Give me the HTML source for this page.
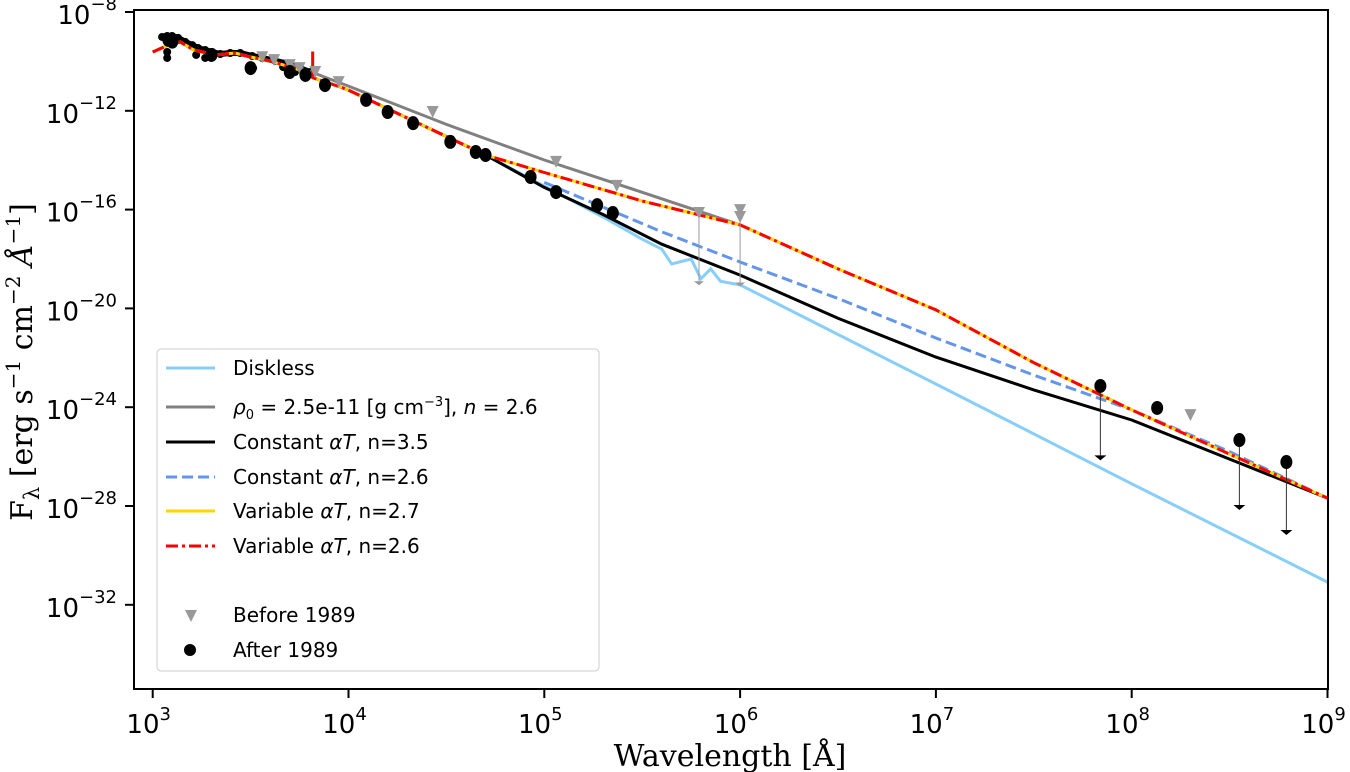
<!DOCTYPE html>
<html><head><meta charset="utf-8"><style>
html,body{margin:0;padding:0;background:#fff;}
svg{display:block;font-family:"DejaVu Sans","Liberation Sans",sans-serif;}
</style></head><body>
<svg id="chart" width="1350" height="772">
<g id="plot"></g>
<rect x="134" y="10" width="1194" height="679" fill="none" stroke="#000" stroke-width="2"/>
<g id="ticks"></g>
<text x="730" y="766" text-anchor="middle" font-family="DejaVu Serif, serif" font-size="30">Wavelength [Å]</text>
<text transform="translate(32,362) rotate(-90)" text-anchor="middle" font-family="DejaVu Serif, serif" font-size="30">F<tspan font-size="21" dy="7">λ</tspan><tspan dy="-7"> [erg s</tspan><tspan font-size="20" dy="-12">−1</tspan><tspan dy="12"> cm</tspan><tspan font-size="20" dy="-12">−2</tspan><tspan dy="12" font-style="italic"> Å</tspan><tspan font-size="20" dy="-12">−1</tspan><tspan dy="12">]</tspan></text>
<g id="legend">
<rect x="157" y="349" width="442" height="322" rx="4" fill="#fff" fill-opacity="0.85" stroke="#ccc" stroke-width="1"/>
</g>
</svg>
<script>
// data in log10 space: log10(lambda [Å]) and log10(F)
const disklessX = [3.0,3.08,3.14,3.21,3.32,3.42,3.5,3.6,3.75,3.82,3.96,4.0,4.3,4.7,5.0,5.3,5.5,5.6,5.65,5.75,5.8,5.85,5.9,6.0,7.0,8.0,9.0];
const disklessY = [-9.62,-9.34,-9.21,-9.54,-9.74,-9.66,-9.82,-9.98,-10.35,-10.67,-11.04,-11.16,-12.29,-13.79,-15.05,-16.3,-17.2,-17.6,-18.2,-18.0,-18.8,-18.4,-18.9,-19.05,-23.06,-27.1,-31.08];
const constN35X = [3.0,3.08,3.14,3.21,3.32,3.42,3.5,3.6,3.75,3.82,3.96,4.0,4.3,4.7,5.0,5.3,5.6,6.0,6.5,7.0,7.5,8.0,8.5,9.0];
const constN35Y = [-9.62,-9.34,-9.21,-9.54,-9.74,-9.66,-9.82,-9.98,-10.35,-10.67,-11.04,-11.16,-12.29,-13.79,-15.1,-16.2,-17.4,-18.65,-20.4,-21.97,-23.3,-24.52,-26.1,-27.68];
const constN26X = [5.0,5.3,5.6,6.0,6.5,7.0,7.5,8.0,8.5,9.0];
const constN26Y = [-14.9,-15.9,-16.9,-18.12,-19.6,-21.2,-22.7,-24.11,-25.8,-27.68];
const varX = [3.0,3.08,3.14,3.21,3.32,3.42,3.5,3.6,3.75,3.82,3.96,4.0,4.3,4.7,5.0,5.5,6.0,6.5,7.0,7.5,8.0,8.5,9.0];
const varY = [-9.62,-9.34,-9.21,-9.54,-9.74,-9.66,-9.82,-9.98,-10.35,-10.67,-11.04,-11.16,-12.29,-13.79,-14.5,-15.65,-16.62,-18.4,-20.06,-22.2,-24.11,-25.9,-27.68];
const rhoX = [3.7,4.0,4.5,5.0,5.5,6.0,6.5];
const rhoY = [-10.1,-11.0,-12.55,-13.99,-15.3,-16.62,-18.4];
const spectrumX = [3.048,3.074,3.099,3.13,3.166,3.202,3.232,3.268,3.304,3.345,3.396,3.447,3.508,3.559,3.626,3.702,3.753,3.804,3.074,3.074,3.222,3.268,3.513,3.666,3.727];
const spectrumY = [-9.01,-8.97,-8.97,-9.05,-9.21,-9.34,-9.46,-9.54,-9.62,-9.70,-9.66,-9.66,-9.78,-9.86,-9.98,-10.11,-10.27,-10.43,-9.62,-9.86,-9.74,-9.86,-10.27,-10.23,-10.43];
const before1989X = [3.56,3.62,3.70,3.75,3.83,3.95,4.43,5.06,5.37,5.79,6.0,6.0,8.3];
const before1989Y = [-9.83,-9.95,-10.15,-10.27,-10.43,-10.84,-12.05,-14.07,-15.04,-16.14,-16.02,-16.3,-24.32];
const beforeLimX = [5.79,6.0];
const beforeLimBottom = [-18.9,-18.95];
const after1989X = [3.08,3.1,3.3,3.5,3.7,3.78,3.88,4.09,4.2,4.33,4.52,4.65,4.7,4.93,5.06,5.27,5.35,7.84,8.13,8.55,8.79];
const after1989Y = [-9.13,-9.2,-9.74,-10.27,-10.43,-10.55,-10.96,-11.56,-12.05,-12.5,-13.26,-13.67,-13.79,-14.68,-15.29,-15.82,-16.14,-23.14,-24.03,-25.33,-26.22];
const afterLimX = [7.84,8.55,8.79];
const afterLimBottom = [-25.95,-27.96,-28.97];
const xTicks = [3,4,5,6,7,8,9];
const yTicks = [-8,-12,-16,-20,-24,-28,-32];

const NS='http://www.w3.org/2000/svg';
const X0=152.7, XD=195.8, Y0=12, YD=24.7;
const sx=v=>X0+(v-3)*XD;
const sy=v=>Y0+(-8-v)*YD;
const plot=document.getElementById('plot');
function mk(tag,attrs,parent){const e=document.createElementNS(NS,tag);for(const k in attrs)e.setAttribute(k,attrs[k]);(parent||plot).appendChild(e);return e;}
function pts(xs,ys){return xs.map((x,i)=>sx(x).toFixed(1)+','+sy(ys[i]).toFixed(1)).join(' ');}

let el;
spectrumX.forEach((x,i)=>{
  el=mk('circle',{cx:sx(x),cy:sy(spectrumY[i]),r:4,fill:'#000'});
  
  
});
el=mk('polyline',{points:pts(spectrumX.slice(0,18),spectrumY.slice(0,18)),fill:'none',stroke:'#000','stroke-width':6});


el=mk('polyline',{points:pts(disklessX,disklessY),fill:'none',stroke:'#87cefa','stroke-width':3});


el=mk('polyline',{points:pts(rhoX,rhoY),fill:'none',stroke:'#808080','stroke-width':3});


el=mk('polyline',{points:pts(constN35X,constN35Y),fill:'none',stroke:'#000','stroke-width':3});


el=mk('polyline',{points:pts(constN26X,constN26Y),fill:'none',stroke:'#6495ed','stroke-width':3,'stroke-dasharray':'11,5'});


el=mk('polyline',{points:pts(varX,varY),fill:'none',stroke:'#ffd700','stroke-width':3});


el=mk('polyline',{points:pts(varX,varY),fill:'none',stroke:'#ff0000','stroke-width':3,'stroke-dasharray':'12,4,3,4'});


el=mk('line',{x1:sx(3.817),x2:sx(3.817),y1:sy(-9.6),y2:sy(-10.6),stroke:'#ff0000','stroke-width':3});



beforeLimX.forEach((x,i)=>{
  const top=before1989Y[before1989X.indexOf(x)];
  const g=mk('g',{});
  
  
  mk('line',{x1:sx(x),x2:sx(x),y1:sy(top),y2:sy(beforeLimBottom[i]),stroke:'#999','stroke-width':1},g);
  mk('polygon',{points:`${sx(x)-5},${sy(beforeLimBottom[i])} ${sx(x)+5},${sy(beforeLimBottom[i])} ${sx(x)},${sy(beforeLimBottom[i])+4}`,fill:'#999'},g);
});
afterLimX.forEach((x,i)=>{
  const top=after1989Y[after1989X.indexOf(x)];
  const g=mk('g',{});
  
  
  mk('line',{x1:sx(x),x2:sx(x),y1:sy(top),y2:sy(afterLimBottom[i]),stroke:'#333','stroke-width':1},g);
  mk('polygon',{points:`${sx(x)-6},${sy(afterLimBottom[i])} ${sx(x)+6},${sy(afterLimBottom[i])} ${sx(x)},${sy(afterLimBottom[i])+5}`,fill:'#000'},g);
});
before1989X.forEach((x,i)=>{
  const cx=sx(x), cy=sy(before1989Y[i]);
  el=mk('polygon',{points:`${cx-6},${cy-6} ${cx+6},${cy-6} ${cx},${cy+6}`,fill:'#999'});
  
  
});
after1989X.forEach((x,i)=>{
  el=mk('ellipse',{cx:sx(x),cy:sy(after1989Y[i]),rx:6,ry:7,fill:'#000'});
  
  
});

const tk=document.getElementById('ticks');
xTicks.forEach(t=>{
  el=mk('line',{x1:sx(t),x2:sx(t),y1:689,y2:698,stroke:'#000','stroke-width':2},tk);
  
  
  el=mk('text',{x:sx(t)-4,y:733,'text-anchor':'middle','font-size':26},tk);
  
  
  el.innerHTML='10<tspan font-size="18" dy="-13">'+t+'</tspan>';
});
yTicks.forEach(t=>{
  el=mk('line',{x1:125,x2:134,y1:sy(t),y2:sy(t),stroke:'#000','stroke-width':2},tk);
  
  
  el=mk('text',{x:117,y:sy(t)+12,'text-anchor':'end','font-size':26},tk);
  
  
  el.innerHTML='10<tspan font-size="18" dy="-14">−'+(-t)+'</tspan>';
});

const lg=document.getElementById('legend');
const rows=[
 {y:368,c:'#87cefa',d:'',t:'Diskless',n:'legend-diskless'},
 {y:407,c:'#808080',d:'',t:'<tspan font-style="italic">ρ</tspan><tspan font-size="13" dy="5">0</tspan><tspan dy="-5"> = 2.5e-11 [g cm</tspan><tspan font-size="13" dy="-8">−3</tspan><tspan dy="8">], </tspan><tspan font-style="italic">n</tspan> = 2.6',n:'legend-rho0'},
 {y:442,c:'#000',d:'',t:'Constant <tspan font-style="italic">αT</tspan>, n=3.5',n:'legend-constant-n35'},
 {y:477,c:'#6495ed',d:'11,5',t:'Constant <tspan font-style="italic">αT</tspan>, n=2.6',n:'legend-constant-n26'},
 {y:511,c:'#ffd700',d:'',t:'Variable <tspan font-style="italic">αT</tspan>, n=2.7',n:'legend-variable-n27'},
 {y:546,c:'#ff0000',d:'12,4,3,4',t:'Variable <tspan font-style="italic">αT</tspan>, n=2.6',n:'legend-variable-n26'}
];
rows.forEach(r=>{
  const g=mk('g',{},lg);
  
  
  mk('line',{x1:166,x2:215,y1:r.y,y2:r.y,stroke:r.c,'stroke-width':3,'stroke-dasharray':r.d||'none'},g);
  const t=mk('text',{x:233,y:r.y+7,'font-size':20},g);
  t.innerHTML=r.t;
});
let g=mk('g',{},lg);


mk('polygon',{points:'185,610 197,610 191,622',fill:'#999'},g);
mk('text',{x:233,y:622,'font-size':20},g).textContent='Before 1989';
g=mk('g',{},lg);


mk('circle',{cx:190,cy:650,r:6,fill:'#000'},g);
mk('text',{x:233,y:657,'font-size':20},g).textContent='After 1989';
</script>
</body></html>
